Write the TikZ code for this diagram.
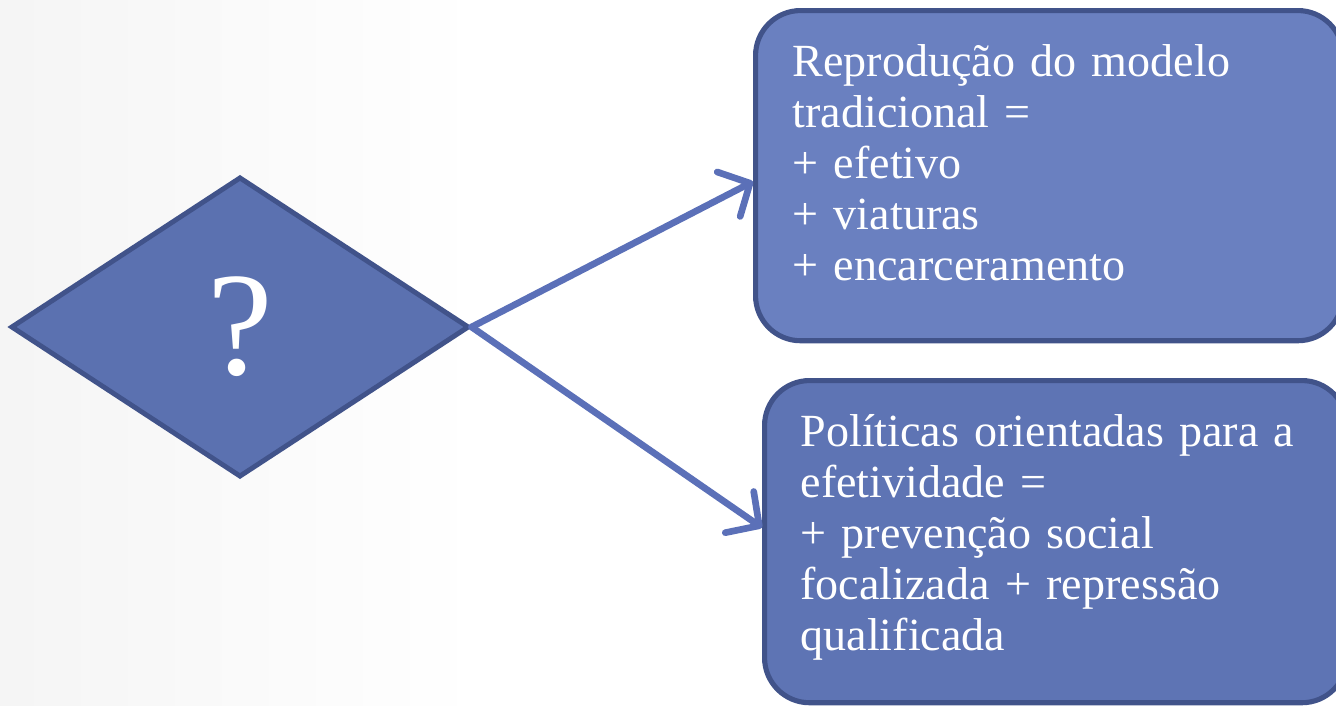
\documentclass[tikz,border=0pt]{standalone}
\usepackage{fontspec}
\setmainfont{Liberation Serif}
\usetikzlibrary{shapes.geometric,arrows.meta}
\definecolor{boxfillA}{HTML}{6A80C0}
\definecolor{boxfillB}{HTML}{5E74B4}
\definecolor{diafill}{HTML}{5B71B0}
\definecolor{edgecol}{HTML}{41538A}
\definecolor{arrowcol}{HTML}{5B70B8}
\tikzset{
  txtbox/.style={draw=edgecol, line width=1.45pt, rounded corners=0.45cm,
    anchor=north west, inner ysep=0pt, align=left, text=white,
    font=\fontsize{13.1}{14.5}\selectfont},
  connector/.style={draw=arrowcol, line width=1.9pt, line cap=round,
    -{Straight Barb[round,length=0.24cm,width=0.5cm]}},
}
\begin{document}
\begin{tikzpicture}[x=0.01cm,y=-0.01cm]
\clip (0,0) rectangle (1336,706);
\fill[left color=black!4, right color=white] (0,0) rectangle (480,706);
\node[shape=diamond, draw=edgecol, fill=diafill, line width=1.4pt,
  minimum width=4.58cm, minimum height=3.0cm, aspect=1.527, inner sep=0pt,
  text=white, font=\fontsize{42}{42}\selectfont] (dia) at (240,327) {?};
\node[txtbox, fill=boxfillA, inner xsep=0.37cm, text width=5.13cm, minimum height=3.30cm] (top) at (753,8)
  {Reprodução do modelo\\ tradicional =\\ + efetivo\\ + viaturas\\ + encarceramento\par\vspace{0.26cm}};
\node[txtbox, fill=boxfillB, inner xsep=0.36cm, text width=5.1cm, minimum height=3.22cm] (bot) at (762,378)
  {Políticas orientadas para a\\ efetividade =\\ + prevenção social\\ focalizada + repressão\\ qualificada\par\vspace{0.08cm}};
\draw[connector] (dia.east) -- ([yshift=-0.06cm]top.west);
\draw[connector] (dia.east) -- ([yshift=0.14cm]bot.west);
\end{tikzpicture}
\end{document}
